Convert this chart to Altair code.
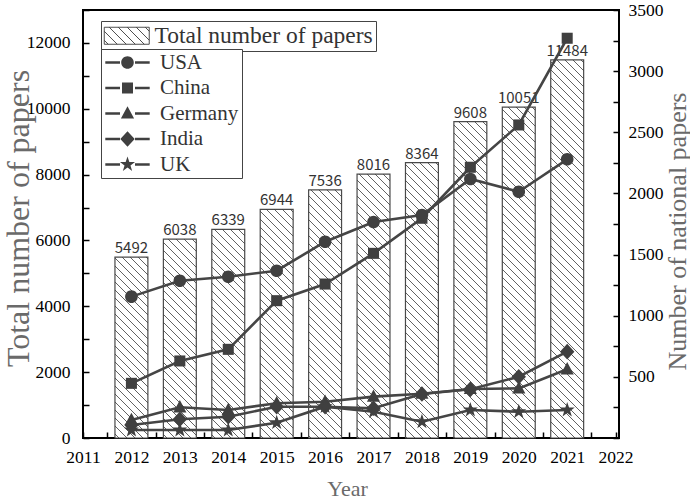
import altair as alt
import pandas as pd
import numpy as np

# ---------------- data ----------------
years = [2012, 2013, 2014, 2015, 2016, 2017, 2018, 2019, 2020, 2021]
total_papers = [5492, 6038, 6339, 6944, 7536, 8016, 8364, 9608, 10051, 11484]
countries = ["USA", "China", "Germany", "India", "UK"]
usa = [1156, 1286, 1319, 1368, 1605, 1766, 1824, 2118, 2014, 2279]
china = [447, 630, 725, 1123, 1259, 1510, 1797, 2214, 2560, 3269]
germany = [147, 251, 229, 284, 297, 338, 362, 401, 406, 562]
india = [106, 153, 174, 256, 256, 243, 360, 398, 501, 706]
uk = [65, 65, 65, 125, 256, 215, 133, 229, 215, 229]

# ---------------- layout constants ----------------
W, H = 536, 428
XMIN, XMAX = 2011, 2022.07
YL_MAX = 13000
YR_MAX = 3500
HALF = 0.34          # half bar width in years
HATCH_SP = 8.0       # hatch spacing in px

bars_df = pd.DataFrame({"Year": years, "Total": total_papers,
                        "series": ["Total number of papers"] * len(years)})
bars_df["x1"] = bars_df["Year"] - HALF
bars_df["x2"] = bars_df["Year"] + HALF

series = {"USA": usa, "China": china, "Germany": germany, "India": india, "UK": uk}
lines_df = pd.DataFrame([{"Year": y, "country": c, "value": v}
                         for c in countries for y, v in zip(years, series[c])])

# hatch lines derived from the bar rectangles
sx = W / (XMAX - XMIN)
sy = H / YL_MAX
rows = []
for yr, v in zip(years, total_papers):
    L = (yr - HALF - XMIN) * sx
    R = (yr + HALF - XMIN) * sx
    T = H - v * sy
    B = H
    kmin = int(np.floor((T - R) / HATCH_SP)) - 1
    kmax = int(np.ceil((B - L) / HATCH_SP)) + 1
    for k in range(kmin, kmax + 1):
        c = k * HATCH_SP
        xs = max(L, T - c)
        xe = min(R, B - c)
        if xe - xs > 0.6:
            rows.append({"hx1": XMIN + xs / sx, "hx2": XMIN + xe / sx,
                         "hy1": (H - (xs + c)) / sy, "hy2": (H - (xe + c)) / sy})
hatch_df = pd.DataFrame(rows)

# ---------------- marker shapes ----------------
def star_path(ro=1.32, ri=0.52):
    pts = []
    for i in range(10):
        a = np.deg2rad(-90 + i * 36)
        r = ro if i % 2 == 0 else ri
        pts.append(f"{r*np.cos(a):.3f},{r*np.sin(a):.3f}")
    return "M" + " L".join(pts) + " Z"

marker_paths = [
    "M1.05,0 A1.05,1.05 0 1,1 -1.05,0 A1.05,1.05 0 1,1 1.05,0 Z",
    "M-0.92,-0.92 H0.92 V0.92 H-0.92 Z",
    "M0,-1.2 L1.1,0.85 L-1.1,0.85 Z",
    "M0,-1.3 L1.2,0 L0,1.3 L-1.2,0 Z",
    star_path(),
]
# legend versions: same markers with filled line stubs on both sides
STUB = " M-3.7,-0.2 H-1.25 V0.2 H-3.7 Z M1.25,-0.2 H3.7 V0.2 H1.25 Z"
legend_paths = [p + STUB for p in marker_paths]

# hatched swatch for bar legend
def swatch_path(hw=2.647, hh=1.0, sp=1.06):
    p = f"M{-hw},{-hh} H{hw} V{hh} H{-hw} Z"
    for k in range(-20, 20):
        c = k * sp
        xs = max(-hw, -hh - c)
        xe = min(hw, hh - c)
        if xe - xs > 0.05:
            p += f" M{xs:.3f},{xs + c:.3f} L{xe:.3f},{xe + c:.3f}"
    return p

# ---------------- encodings ----------------
x_axis = alt.Axis(title="Year", values=[2011 + i * 0.5 for i in range(23)],
                  labelExpr="datum.value % 1 == 0 ? format(datum.value, 'd') : ''",
                  labelFlush=False, labelPadding=10, tickSize=6, offset=-6,
                  titleX=264, titleY=56, titleFontSize=22, titleAlign="center",
                  titleBaseline="middle")
x_scale = alt.Scale(domain=[XMIN, XMAX], nice=False, zero=False)

yl_axis = alt.Axis(title="Total number of papers", orient="left",
                   values=list(range(0, 13001, 1000)),
                   labelExpr="datum.value % 2000 == 0 ? format(datum.value, 'd') : ''",
                   labelPadding=13, tickSize=6, offset=-6,
                   titleX=-71, titleY=208, titleAngle=270, titleFontSize=32,
                   titleAlign="center", titleBaseline="middle")
yl_scale = alt.Scale(domain=[0, YL_MAX], nice=False)

yr_axis = alt.Axis(title="Number of national papers", orient="right",
                   values=list(range(0, 3501, 250)),
                   labelExpr="datum.value % 500 == 0 && datum.value > 0 ? format(datum.value, 'd') : ''",
                   labelPadding=9, tickSize=6, offset=-6,
                   titleX=64, titleY=221, titleAngle=270, titleFontSize=26,
                   titleAlign="center", titleBaseline="middle")
yr_scale = alt.Scale(domain=[0, YR_MAX], nice=False)

bars = alt.Chart(bars_df).mark_rect(stroke="#4a4a4a", strokeWidth=1.2).encode(
    x=alt.X("x1:Q", scale=x_scale, axis=x_axis),
    x2="x2:Q",
    y=alt.Y("Total:Q", scale=yl_scale, axis=yl_axis),
    y2=alt.datum(0),
    fill=alt.Fill("series:N", scale=alt.Scale(range=["white"]), title=None,
                  legend=alt.Legend(orient="none", legendX=18, legendY=11,
                                    symbolType=swatch_path(), symbolSize=289,
                                    symbolStrokeColor="#3a3a3a", symbolStrokeWidth=0.9,
                                    symbolFillColor="white",
                                    symbolOffset=11, labelOffset=16,
                                    labelFont="Liberation Serif", labelFontSize=23.5,
                                    labelColor="#333333", labelLimit=400,
                                    padding=3, strokeColor="#444444", fillColor="white")),
)

hatch = alt.Chart(hatch_df).mark_rule(color="#3a3a3a", strokeWidth=0.8).encode(
    x=alt.X("hx1:Q", scale=x_scale, axis=x_axis),
    x2="hx2:Q",
    y=alt.Y("hy1:Q", scale=yl_scale, axis=yl_axis),
    y2="hy2:Q",
)

labels = alt.Chart(bars_df).mark_text(dy=-4, baseline="alphabetic", align="center",
                                       font="Noto Sans CJK SC", fontSize=15,
                                       color="#333333").encode(
    x=alt.X("Year:Q", scale=x_scale, axis=x_axis),
    y=alt.Y("Total:Q", scale=yl_scale, axis=yl_axis),
    text=alt.Text("Total:Q", format="d"),
)

left = alt.layer(bars, hatch, labels)

lines = alt.Chart(lines_df).mark_line(color="#454545", strokeWidth=2.6).encode(
    x=alt.X("Year:Q", scale=x_scale, axis=x_axis),
    y=alt.Y("value:Q", scale=yr_scale, axis=yr_axis),
    detail="country:N",
)

# legend-only layer (draws no rows); its shape scale carries the line stubs
legend_layer = alt.Chart(lines_df).transform_filter("datum.value < 0").mark_point(
    filled=True, opacity=1, size=144, color="#404040").encode(
    x=alt.X("Year:Q", scale=x_scale, axis=x_axis),
    y=alt.Y("value:Q", scale=yr_scale, axis=yr_axis),
    shape=alt.Shape("country:N", scale=alt.Scale(domain=countries, range=legend_paths),
                    title=None,
                    legend=alt.Legend(orient="none", legendX=18, legendY=39,
                                      symbolSize=144, symbolFillColor="#404040",
                                      symbolOffset=13, labelOffset=22,
                                      labelFont="Liberation Serif", labelFontSize=21,
                                      labelColor="#333333", rowPadding=3.5,
                                      clipHeight=21,
                                      padding=3, strokeColor="#444444", fillColor="white")),
)

points = alt.Chart(lines_df).mark_point(filled=True, opacity=1, size=144,
                                        color="#404040").encode(
    x=alt.X("Year:Q", scale=x_scale, axis=x_axis),
    y=alt.Y("value:Q", scale=yr_scale, axis=yr_axis),
    shape=alt.Shape("country:N", scale=alt.Scale(domain=countries, range=marker_paths),
                    legend=None),
)

right = alt.layer(legend_layer, lines, points).resolve_scale(shape="independent")

chart = alt.layer(left, right).resolve_scale(y="independent").properties(
    width=W, height=H,
    padding={"left": 83, "top": 10, "right": 71, "bottom": 64},
    autosize=alt.AutoSizeParams(type="none"),
).configure_view(
    stroke="black", strokeWidth=2
).configure_axis(
    domain=False, grid=False,
    labelFont="Liberation Serif", labelFontSize=17.5, labelColor="black",
    tickColor="black", tickWidth=1.5,
    titleFont="Liberation Serif", titleFontWeight="normal", titleColor="#6a6a6a",
)

chart.save("out.html", embed_options={"renderer": "svg", "actions": False})
